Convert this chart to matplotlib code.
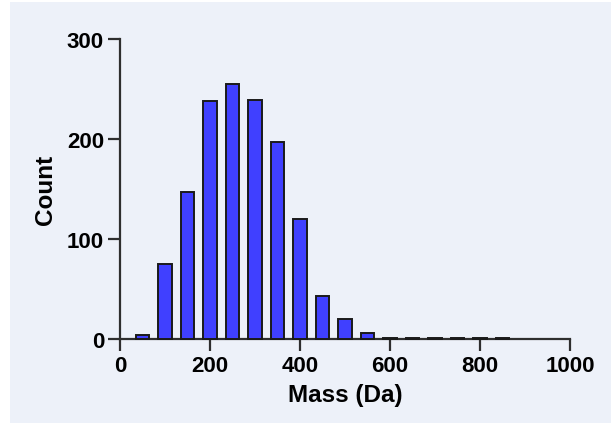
import matplotlib.pyplot as plt
from matplotlib.patches import Rectangle

# bin centres (Da) and counts
mass_bins = [50, 100, 150, 200, 250, 300, 350, 400, 450, 500, 550, 600, 650, 700, 750, 800, 850]
counts = [4, 75, 147, 238, 255, 239, 197, 120, 43, 20, 6, 1, 1, 1, 1, 1, 1]

x_ticks = [0, 200, 400, 600, 800, 1000]
y_ticks = [0, 100, 200, 300]

plt.rcParams['font.family'] = ['Liberation Sans', 'DejaVu Sans']
plt.rcParams['font.weight'] = 'bold'

fig = plt.figure(figsize=(6.11, 4.27), dpi=100, facecolor='white')
# light panel behind the chart
fig.add_artist(Rectangle((10 / 611, 3 / 427), 601 / 611, 421 / 427,
                         transform=fig.transFigure, facecolor='#edf1f9',
                         edgecolor='none', zorder=-10))

ax = fig.add_axes([120 / 611, 87 / 427, 450 / 611, 300 / 427])
ax.set_zorder(1)
ax.patch.set_alpha(0)

ax.bar(mass_bins, counts, width=31, color='#4040ff', edgecolor='#1a1a1a',
       linewidth=1.4, clip_on=False, zorder=3)

ax.set_xlim(0, 1000)
ax.set_ylim(0, 300)
ax.set_xticks(x_ticks)
ax.set_yticks(y_ticks)

for side in ['top', 'right']:
    ax.spines[side].set_visible(False)
for side in ['left', 'bottom']:
    ax.spines[side].set_linewidth(1.6)
    ax.spines[side].set_color('#2e2e2e')

ax.tick_params(axis='both', length=8.5, width=1.6, color='#2e2e2e',
               labelsize=16, pad=3, labelcolor='black')
for lab in ax.get_xticklabels() + ax.get_yticklabels():
    lab.set_fontweight('bold')

ax.set_xlabel('Mass (Da)', fontsize=17.5, fontweight='bold', labelpad=5)
ax.set_ylabel('Count', fontsize=17.5, fontweight='bold', labelpad=7)

fig.savefig('out.png', dpi=100, facecolor=fig.get_facecolor())
